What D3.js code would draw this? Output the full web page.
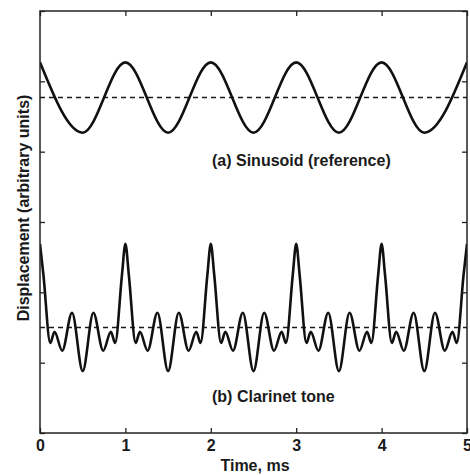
<!DOCTYPE html>
<html lang="en">
<head>
  <meta charset="UTF-8">
  <title>Sinusoid vs clarinet tone</title>
  <style>
    body { margin: 0; background: #fff; }
    text { font-family: "Liberation Sans", Arial, sans-serif; font-weight: bold; fill: #1a1a1a; }
  </style>
</head>
<body>
<script src="https://d3js.org/d3.v7.min.js"></script>
<div class="chart-container"></div>
<script>
  // time axis (ms) and displacement axis (arbitrary units)
  var xTicks = [0, 1, 2, 3, 4, 5];
  var yTicks = [0, 1, 2, 3, 4, 5, 6];

  // (a) sinusoid: one period, extrema
  var sinePhase = [0, 0.5];
  var sineShape = [5.27, 4.27];
  var sineBase = 4.77;

  // (b) clarinet tone: one period, extrema
  var clarinetPhase = [0, 0.04, 0.12, 0.17, 0.26, 0.375, 0.5, 0.625, 0.74, 0.83, 0.88, 0.96];
  var clarinetShape = [2.69, 2.25, 1.28, 1.44, 1.17, 1.71, 0.88, 1.71, 1.17, 1.44, 1.28, 2.25];
  var clarinetBase = 1.5;

  var labelA = "(a) Sinusoid (reference)";
  var labelB = "(b) Clarinet tone";

  var width = 470, height = 475;
  var x = d3.scaleLinear().domain([0, 5]).range([40, 467]);
  var y = d3.scaleLinear().domain([0, 6]).range([433, 11]);

  var svg = d3.select(".chart-container")
          .append("svg")
          .attr("width", width)
          .attr("height", height);

  // repeat one period across 0..5 ms
  function tile(phase, shape) {
    var pts = [];
    for (var k = 0; k < 5; k++) {
      phase.forEach(function(p, i) { pts.push([k + p, shape[i]]); });
    }
    pts.push([5, shape[0]]);
    return pts;
  }

  var line = d3.line()
          .x(function(d) { return x(d[0]); })
          .y(function(d) { return y(d[1]); })
          .curve(d3.curveMonotoneX);

  svg.append("clipPath").attr("id", "plot")
          .append("rect")
          .attr("x", x(0)).attr("y", y(6))
          .attr("width", x(5) - x(0)).attr("height", y(0) - y(6));

  var plot = svg.append("g").attr("clip-path", "url(#plot)");

  // dashed baselines
  [sineBase, clarinetBase].forEach(function(b) {
    plot.append("line")
            .attr("x1", x(0)).attr("x2", x(5))
            .attr("y1", y(b)).attr("y2", y(b))
            .attr("stroke", "#1a1a1a")
            .attr("stroke-width", 1.3)
            .attr("stroke-dasharray", "5,4");
  });

  plot.append("path")
          .datum(tile(sinePhase, sineShape))
          .attr("d", line)
          .attr("fill", "none")
          .attr("stroke", "#111")
          .attr("stroke-width", 2.6);

  plot.append("path")
          .datum(tile(clarinetPhase, clarinetShape))
          .attr("d", line)
          .attr("fill", "none")
          .attr("stroke", "#111")
          .attr("stroke-width", 2.6);

  // axes, ticks pointing inward
  var gBottom = svg.append("g")
          .attr("transform", "translate(0," + y(0) + ")")
          .call(d3.axisBottom(x).tickValues(xTicks).tickSize(-5).tickPadding(7).tickFormat(d3.format("d")));
  var gTop = svg.append("g")
          .attr("transform", "translate(0," + y(6) + ")")
          .call(d3.axisTop(x).tickValues(xTicks).tickSize(-5).tickFormat(""));
  var gLeft = svg.append("g")
          .attr("transform", "translate(" + x(0) + ",0)")
          .call(d3.axisLeft(y).tickValues(yTicks).tickSize(-5).tickFormat(""));
  var gRight = svg.append("g")
          .attr("transform", "translate(" + x(5) + ",0)")
          .call(d3.axisRight(y).tickValues(yTicks).tickSize(-5).tickFormat(""));

  [gBottom, gTop, gLeft, gRight].forEach(function(g) {
    g.select(".domain").remove();
    g.selectAll(".tick line").attr("stroke", "#222").attr("stroke-width", 1.3);
  });
  gBottom.selectAll(".tick text")
          .attr("font-family", "Liberation Sans, Arial, sans-serif")
          .attr("font-weight", "bold")
          .attr("font-size", 16)
          .attr("fill", "#1a1a1a");

  // frame
  svg.append("rect")
          .attr("x", x(0)).attr("y", y(6))
          .attr("width", x(5) - x(0)).attr("height", y(0) - y(6))
          .attr("fill", "none")
          .attr("stroke", "#222")
          .attr("stroke-width", 1.5);

  svg.append("text")
          .attr("x", 212).attr("y", 166)
          .attr("font-size", 16)
          .text(labelA);

  svg.append("text")
          .attr("x", 212).attr("y", 402)
          .attr("font-size", 16)
          .text(labelB);

  svg.append("text")
          .attr("x", 255).attr("y", 471)
          .attr("text-anchor", "middle")
          .attr("font-size", 16)
          .text("Time, ms");

  svg.append("text")
          .attr("transform", "translate(29,208) rotate(-90)")
          .attr("text-anchor", "middle")
          .attr("font-size", 16)
          .text("Displacement (arbitrary units)");
</script>
</body>
</html>
